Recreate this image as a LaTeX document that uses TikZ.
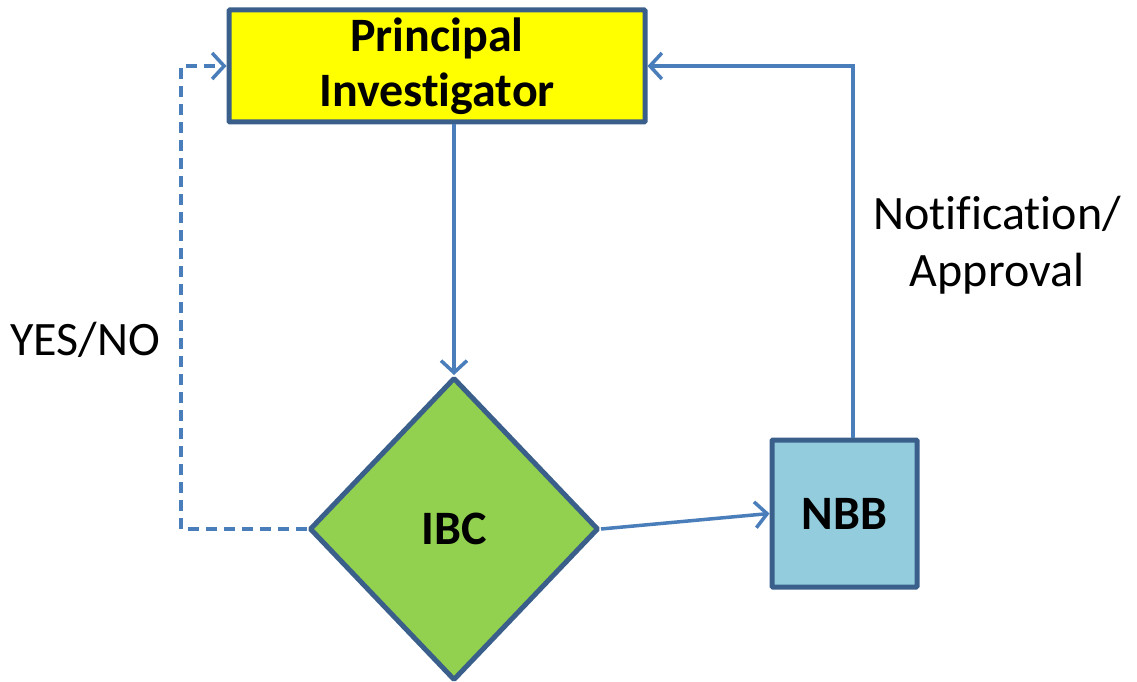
\documentclass[tikz,border=0pt]{standalone}
\usepackage{fontspec}
\setmainfont{Carlito}[Ligatures=NoCommon]
\usetikzlibrary{shapes.geometric,arrows.meta}
\definecolor{bordc}{HTML}{3A5F8B}
\definecolor{linec}{HTML}{4A7EBB}
\definecolor{pifill}{HTML}{FFFF00}
\definecolor{ibcfill}{HTML}{92D050}
\definecolor{nbbfill}{HTML}{93CDDD}
\tikzset{
  boxnode/.style={draw=bordc, line width=5pt, rounded corners=1pt, inner sep=0pt, font=\fontsize{48}{55}\selectfont\bfseries, align=center},
  conn/.style={draw=linec, line width=3.5pt, -{Straight Barb[length=12pt,width=26pt,line width=3.5pt]}},
  dconn/.style={conn, dash pattern=on 11pt off 7pt},
  lbl/.style={font=\fontsize{48}{57}\selectfont, align=center, inner sep=0pt}
}
\begin{document}
\begin{tikzpicture}[x=1pt,y=-1pt]
\useasboundingbox (0,0) rectangle (1137,682);
\node[boxnode, fill=pifill, minimum width=416pt, minimum height=112pt] (pi) at (437,66) {Principal\\Investigator};
\node[boxnode, fill=ibcfill, diamond, minimum width=289pt, minimum height=303pt, shape aspect=0.95] (ibc) at (454,529) {IBC};
\node[boxnode, fill=nbbfill, minimum width=145pt, minimum height=147pt] (nbb) at (844.5,513.5) {NBB};
\coordinate (tl) at (181,529);
\coordinate (tr) at (181,66);
\coordinate (nr) at (853,66);
\draw[conn] (pi.south -| ibc.north) -- (ibc.north);
\draw[conn] (ibc.east) -- (nbb.west);
\draw[conn] (nbb.north -| nr) -- (nr) -- (pi.east);
\draw[dconn] (ibc.west) -- (tl) -- (tr) -- (pi.west);
\node[lbl] (yn) at (85,340) {YES/NO};
\node[lbl] (na) at (997,245) {Notification/\\Approval};
\end{tikzpicture}
\end{document}
